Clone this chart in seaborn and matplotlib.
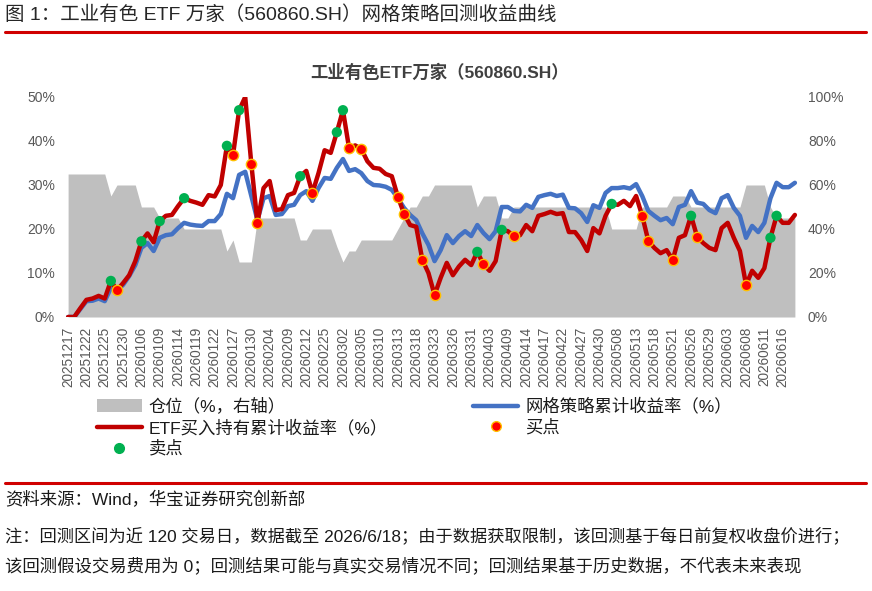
import numpy as np
import pandas as pd
import matplotlib
matplotlib.use("Agg")
import matplotlib.pyplot as plt
from matplotlib.lines import Line2D
from matplotlib.patches import Patch
import seaborn as sns

# trading calendar (A-share holidays in the window)
holidays = ["2026-01-01", "2026-01-02",
            "2026-02-16", "2026-02-17", "2026-02-18", "2026-02-19", "2026-02-20", "2026-02-23",
            "2026-04-06", "2026-05-01", "2026-05-04", "2026-05-05"]
dates = pd.bdate_range("2025-12-17", "2026-06-18", freq="C",
                       holidays=holidays).strftime("%Y%m%d").tolist()

# ETF buy & hold cumulative return (%)
etf = [0, 0, 2.0, 3.9, 4.2, 4.8, 4.2, 8.2, 6.1, 7.7,
       9.5, 12.7, 17.2, 19.0, 17.0, 21.8, 23.0, 23.2, 25.2, 27.0,
       26.4, 26.0, 25.5, 27.7, 27.4, 30.0, 38.9, 36.8, 47.0, 50.0,
       34.8, 21.4, 29.3, 30.9, 24.3, 24.5, 27.7, 28.2, 32.0, 33.2,
       28.2, 32.7, 37.9, 37.3, 42.0, 47.0, 38.4, 39.0, 38.2, 35.4,
       33.9, 33.7, 32.5, 32.0, 27.3, 23.5, 20.9, 20.5, 13.0, 10.0,
       5.0, 8.9, 12.3, 9.5, 11.5, 13.0, 11.8, 14.8, 12.0, 10.5,
       12.7, 19.8, 19.5, 18.4, 18.6, 20.9, 19.5, 23.0, 23.4, 23.9,
       23.4, 23.6, 19.3, 19.3, 17.5, 15.0, 20.2, 19.0, 23.0, 25.7,
       25.5, 26.4, 25.2, 27.5, 23.0, 17.3, 15.7, 14.5, 15.2, 13.0,
       18.0, 18.6, 23.0, 18.2, 16.8, 15.7, 15.2, 20.2, 21.4, 18.0,
       15.0, 7.3, 10.5, 8.9, 11.1, 18.0, 23.0, 21.4, 21.4, 23.2]

# grid strategy cumulative return (%)
grid = [0, 0, 1.8, 3.6, 3.7, 4.2, 3.6, 6.6, 6.0, 7.3,
        9.3, 11.8, 15.7, 16.8, 15.0, 18.0, 18.6, 18.8, 20.2, 21.4,
        21.0, 20.8, 20.7, 21.8, 21.8, 23.4, 28.0, 27.0, 32.3, 33.0,
        27.5, 22.0, 27.0, 27.5, 23.2, 23.4, 25.2, 25.5, 27.7, 28.6,
        26.4, 29.3, 31.6, 31.4, 33.9, 35.9, 33.2, 33.6, 32.7, 30.9,
        30.0, 29.9, 29.6, 28.9, 27.0, 24.8, 23.2, 22.0, 19.0, 16.4,
        12.7, 15.2, 18.6, 16.8, 18.4, 19.5, 18.4, 20.9, 19.1, 17.7,
        19.5, 25.0, 25.0, 24.1, 24.0, 25.5, 24.8, 27.3, 27.7, 28.0,
        27.5, 27.8, 24.8, 24.7, 23.6, 21.6, 25.4, 24.8, 28.2, 29.3,
        29.3, 29.5, 29.2, 30.2, 27.5, 24.1, 23.0, 22.0, 22.5, 21.1,
        25.0, 25.5, 28.6, 26.0, 25.7, 24.3, 23.6, 27.0, 27.7, 24.8,
        23.0, 18.0, 20.7, 19.3, 21.4, 27.0, 30.5, 29.5, 29.5, 30.5]

# position (%, right axis)
position = [65, 65, 65, 65, 65, 65, 65, 55, 60, 60,
            60, 60, 50, 50, 50, 45, 45, 45, 45, 40,
            40, 40, 40, 40, 40, 40, 30, 35, 25, 25,
            25, 45, 45, 45, 45, 45, 45, 45, 35, 35,
            40, 40, 40, 40, 32, 25, 30, 30, 35, 35,
            35, 35, 35, 35, 40, 45, 50, 50, 55, 55,
            60, 60, 60, 60, 60, 60, 60, 50, 55, 55,
            55, 45, 45, 50, 50, 50, 50, 50, 50, 50,
            50, 50, 50, 50, 50, 50, 50, 50, 50, 40,
            40, 40, 40, 40, 50, 50, 50, 50, 50, 55,
            55, 55, 50, 50, 50, 50, 50, 50, 50, 50,
            50, 60, 60, 60, 60, 50, 45, 45, 45, 45]

buy_idx = [8, 27, 30, 31, 40, 46, 48, 54, 55, 58, 60, 68, 73, 94, 95, 99, 103, 111]
sell_idx = [7, 12, 15, 19, 26, 28, 38, 44, 45, 67, 71, 89, 102, 115, 116]

RED = "#C00000"
BLUE = "#4472C4"
GRAY = "#BFBFBF"
GREEN = "#00B050"

df = pd.DataFrame({"idx": np.arange(len(dates)), "etf": etf, "grid": grid, "pos": position})
buys = df.iloc[buy_idx]
sells = df.iloc[sell_idx]

sns.set_theme(style="white")
plt.rcParams["font.family"] = ["Liberation Sans", "Noto Sans CJK SC"]

W, H = 872, 591
fig = plt.figure(figsize=(W / 100, H / 100), dpi=100)
ax = fig.add_axes([62 / W, (H - 317) / H, 739 / W, 220 / H])
ax2 = ax.twinx()

# position area on the right axis, behind the lines
ax2.fill_between(df["idx"], df["pos"], color=GRAY, lw=0)
ax2.set_ylim(0, 100)
ax.set_zorder(ax2.get_zorder() + 1)
ax.patch.set_visible(False)

sns.lineplot(data=df, x="idx", y="grid", ax=ax, color=BLUE, lw=3.2)
sns.lineplot(data=df, x="idx", y="etf", ax=ax, color=RED, lw=3.2)
sns.scatterplot(data=sells, x="idx", y="etf", ax=ax, color=GREEN, s=55,
                edgecolor="none", zorder=5)
sns.scatterplot(data=buys, x="idx", y="etf", ax=ax, color="#FF0000", s=55,
                edgecolor="#FFC000", linewidth=1.0, zorder=5)

ax.set_xlim(-1, len(dates))
ax.set_ylim(0, 50)
ax.set_yticks(range(0, 51, 10))
ax.set_yticklabels([f"{v}%" for v in range(0, 51, 10)])
ax2.set_yticks(range(0, 101, 20))
ax2.set_yticklabels([f"{v}%" for v in range(0, 101, 20)])
ax.set_xticks(range(0, len(dates), 3))
ax.set_xticklabels(dates[::3], rotation=90)
ax.set_xlabel("")
ax.set_ylabel("")
for a in (ax, ax2):
    for s in a.spines.values():
        s.set_visible(False)
    a.tick_params(length=0, colors="#595959", labelsize=10)
ax.tick_params(axis="x", labelsize=9.8, pad=7)
ax.tick_params(axis="y", pad=5)
ax2.tick_params(axis="y", pad=5)

fig.text(440 / W, 1 - 72 / H, "工业有色ETF万家（560860.SH）", ha="center", va="center",
         fontsize=12.5, fontweight="bold", color="#404040")

handles = [Patch(facecolor=GRAY, edgecolor="none"),
           Line2D([], [], color=RED, lw=3.2),
           Line2D([], [], ls="none", marker="o", color=GREEN, markersize=7),
           Line2D([], [], color=BLUE, lw=3.2),
           Line2D([], [], ls="none", marker="o", markerfacecolor="#FF0000",
                  markeredgecolor="#FFC000", markersize=7)]
labels = ["仓位（%，右轴）", "ETF买入持有累计收益率（%）", "卖点",
          "网格策略累计收益率（%）", "买点"]
fig.legend(handles, labels, ncol=2, loc="upper left", bbox_to_anchor=(88 / W, 1 - 389 / H),
           frameon=False, fontsize=12.5, handlelength=2.6, handletextpad=0.4,
           columnspacing=4.9, labelspacing=0.25, borderpad=0, labelcolor="#1a1a1a")

# header and footer
fig.text(5 / W, 1 - 15 / H, "图 1：工业有色 ETF 万家（560860.SH）网格策略回测收益曲线",
         ha="left", va="center", fontsize=14, color="#262626")
fig.add_artist(Line2D([5 / W, 866 / W], [1 - 32 / H] * 2, color="#D00000", lw=2.2))
fig.add_artist(Line2D([5 / W, 866 / W], [1 - 483 / H] * 2, color="#D00000", lw=2.2))
fig.text(5 / W, 1 - 500 / H, "资料来源：Wind，华宝证券研究创新部",
         ha="left", va="center", fontsize=12.5, color="#1a1a1a")
fig.text(5 / W, 1 - 535 / H,
         "注：回测区间为近 120 交易日，数据截至 2026/6/18；由于数据获取限制，该回测基于每日前复权收盘价进行；",
         ha="left", va="center", fontsize=12.4, color="#1a1a1a")
fig.text(5 / W, 1 - 565 / H,
         "该回测假设交易费用为 0；回测结果可能与真实交易情况不同；回测结果基于历史数据，不代表未来表现",
         ha="left", va="center", fontsize=12.5, color="#1a1a1a")

fig.savefig("out.png", dpi=100)
